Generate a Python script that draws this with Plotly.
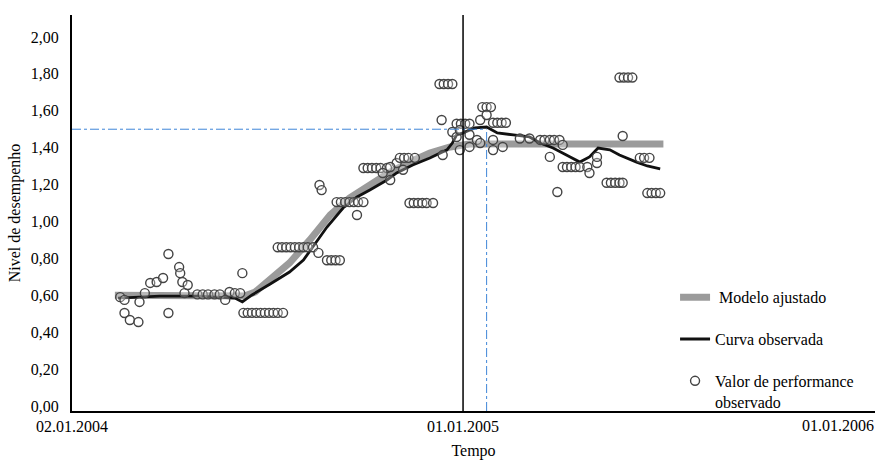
import pandas as pd
import plotly.graph_objects as go

SERIF = "Liberation Serif"
inicio = pd.Timestamp("2004-01-02")

# Modelo ajustado (dias desde 02.01.2004, nivel)
modelo_dias = [40, 161, 171, 185, 203, 222, 241, 259, 278, 297, 315, 334, 353, 371, 552]
modelo_nivel = [0.60, 0.596, 0.618, 0.683, 0.775, 0.90, 1.035, 1.127, 1.198, 1.268,
                1.322, 1.371, 1.404, 1.42, 1.42]

# Curva observada
curva_dias = [43, 59, 82, 119, 152, 159, 168, 185, 203, 216, 225, 238, 253, 266, 278,
              294, 303, 318, 334, 350, 355, 359, 365, 376, 387, 397, 412, 427, 437, 449,
              465, 474, 483, 491, 502, 511, 527, 537, 549]
curva_nivel = [0.585, 0.591, 0.596, 0.596, 0.585, 0.564, 0.602, 0.661, 0.726, 0.791,
               0.862, 0.970, 1.073, 1.133, 1.171, 1.225, 1.263, 1.306, 1.344, 1.388,
               1.425, 1.469, 1.480, 1.507, 1.512, 1.480, 1.469, 1.458, 1.425, 1.398,
               1.350, 1.322, 1.350, 1.398, 1.388, 1.360, 1.322, 1.301, 1.285]

# Valores de performance observados
obs_dias = [45, 49, 49, 54, 62, 63, 68, 73, 79, 85, 90, 90, 100, 101, 103, 105, 108,
            117, 122, 127, 133, 138, 143, 147, 152, 157, 159,
            160, 164, 168, 172, 176, 180, 184, 188, 192, 197,
            192, 196, 200, 204, 208, 212, 216, 220, 225, 230, 231, 233,
            238, 242, 246, 250, 247, 251, 255, 259, 263, 267, 272, 266,
            272, 276, 280, 284, 288, 294, 290, 297, 303, 297, 309,
            306, 310, 314, 320, 315, 319, 323, 327, 331, 337,
            343, 347, 351, 355, 345, 346, 355, 359, 363, 367, 371,
            359, 362, 362, 371, 371, 378, 381, 381, 383, 387, 391, 387,
            393, 397, 401, 405, 393, 393, 402, 418, 427,
            437, 441, 446, 450, 455, 446, 453, 458,
            458, 462, 466, 470, 474, 481, 483, 490, 490,
            499, 503, 507, 511, 514, 511, 515, 519, 523, 514,
            530, 534, 539, 537, 541, 545, 549]
obs_nivel = [0.59, 0.575, 0.504, 0.466, 0.455, 0.564, 0.612, 0.667, 0.672, 0.694, 0.824,
             0.504, 0.753, 0.72, 0.672, 0.612, 0.656,
             0.605, 0.605, 0.605, 0.605, 0.605, 0.575, 0.618, 0.612, 0.612, 0.72,
             0.505, 0.505, 0.505, 0.505, 0.505, 0.505, 0.505, 0.505, 0.505, 0.505,
             0.86, 0.86, 0.86, 0.86, 0.86, 0.86, 0.86, 0.86, 0.86, 0.83, 1.198, 1.17,
             0.79, 0.79, 0.79, 0.79, 1.105, 1.105, 1.105, 1.105, 1.105, 1.105, 1.105, 1.035,
             1.29, 1.29, 1.29, 1.29, 1.29, 1.29, 1.263, 1.225, 1.317, 1.295, 1.28,
             1.345, 1.345, 1.345, 1.345, 1.10, 1.10, 1.10, 1.10, 1.10, 1.10,
             1.745, 1.745, 1.745, 1.745, 1.55, 1.36, 1.485, 1.53, 1.53, 1.53, 1.53,
             1.458, 1.387, 1.496, 1.404, 1.47, 1.442, 1.425, 1.55, 1.62, 1.62, 1.62, 1.577,
             1.535, 1.535, 1.535, 1.535, 1.442, 1.387, 1.404, 1.45, 1.45,
             1.442, 1.442, 1.442, 1.442, 1.442, 1.35, 1.16, 1.415,
             1.295, 1.295, 1.295, 1.295, 1.295, 1.295, 1.263, 1.317, 1.35,
             1.21, 1.21, 1.21, 1.21, 1.21, 1.78, 1.78, 1.78, 1.78, 1.463,
             1.345, 1.345, 1.345, 1.154, 1.154, 1.154, 1.154]

# Referencias: nivel 1,50 e data correspondente
nivel_ref = 1.50
dia_ref = 387
data_corte = "2005-01-01"

y_min, y_max = -0.027, 2.119
y_ticks = [0.0, 0.2, 0.4, 0.6, 0.8, 1.0, 1.2, 1.4, 1.6, 1.8, 2.0]
y_labels = ["0,00", "0,20", "0,40", "0,60", "0,80", "1,00", "1,20", "1,40", "1,60", "1,80", "2,00"]
x_ticks = ["2004-01-02", "2005-01-01", "2006-01-01"]
x_labels = ["02.01.2004", "01.01.2005", "01.01.2006"]


def para_data(dias):
    return [inicio + pd.Timedelta(days=d) for d in dias]


fig = go.Figure()

fig.add_trace(go.Scatter(
    x=para_data(modelo_dias), y=modelo_nivel, mode="lines",
    name=" Modelo ajustado", line=dict(color="#9b9b9b", width=7),
    legendgroup="a"))

fig.add_trace(go.Scatter(
    x=para_data(curva_dias), y=curva_nivel, mode="lines",
    name="Curva observada", line=dict(color="#111111", width=2.8),
    legendgroup="b"))

fig.add_trace(go.Scatter(
    x=para_data(obs_dias), y=obs_nivel, mode="markers",
    name="Valor de performance<br>observado",
    marker=dict(symbol="circle", size=9, color="rgba(255,255,255,0.3)",
                line=dict(color="#444444", width=1.4)),
    legendgroup="c"))

data_ref = inicio + pd.Timedelta(days=dia_ref)
azul = "#3f86d8"
fig.add_shape(type="line", xref="x", yref="y", x0=inicio, x1=data_ref,
              y0=nivel_ref, y1=nivel_ref, line=dict(color=azul, width=1, dash="dashdot"))
fig.add_shape(type="line", xref="x", yref="y", x0=data_ref, x1=data_ref,
              y0=y_min, y1=nivel_ref, line=dict(color=azul, width=1, dash="dashdot"))
fig.add_shape(type="line", xref="x", yref="paper", x0=data_corte, x1=data_corte,
              y0=0, y1=1, line=dict(color="black", width=1.5))

# rótulo da última data, recuado para caber na área
fig.add_annotation(x=x_ticks[2], y=0, xref="x", yref="paper", text=x_labels[2],
                   showarrow=False, xanchor="center", yanchor="top", xshift=-16, yshift=-4,
                   font=dict(family=SERIF, size=16, color="black"))

fig.update_layout(
    width=877, height=460,
    margin=dict(l=72, r=2, t=15, b=49),
    paper_bgcolor="white", plot_bgcolor="white",
    font=dict(family=SERIF, size=16, color="black"),
    showlegend=True,
    legend=dict(x=0.751, y=0.33, xanchor="left", yanchor="top",
                bgcolor="rgba(0,0,0,0)", tracegroupgap=18, valign="top",
                font=dict(family=SERIF, size=16, color="black")),
    xaxis=dict(type="date", range=[inicio, inicio + pd.Timedelta(days=749.5)],
               tickvals=x_ticks[:2], ticktext=x_labels[:2],
               showgrid=False, zeroline=False, showline=True, linecolor="black",
               linewidth=2, ticks="", automargin=False,
               tickfont=dict(family=SERIF, size=16),
               title=dict(text="Tempo", standoff=12, font=dict(family=SERIF, size=16))),
    yaxis=dict(range=[y_min, y_max], tickvals=y_ticks, ticktext=y_labels,
               showgrid=False, zeroline=False, showline=True, linecolor="black",
               linewidth=2, ticks="", automargin=False, ticklabelstandoff=8,
               tickfont=dict(family=SERIF, size=16),
               title=dict(text="Nivel de desempenho", standoff=6,
                          font=dict(family=SERIF, size=16))),
)

fig.write_html("out.html")
